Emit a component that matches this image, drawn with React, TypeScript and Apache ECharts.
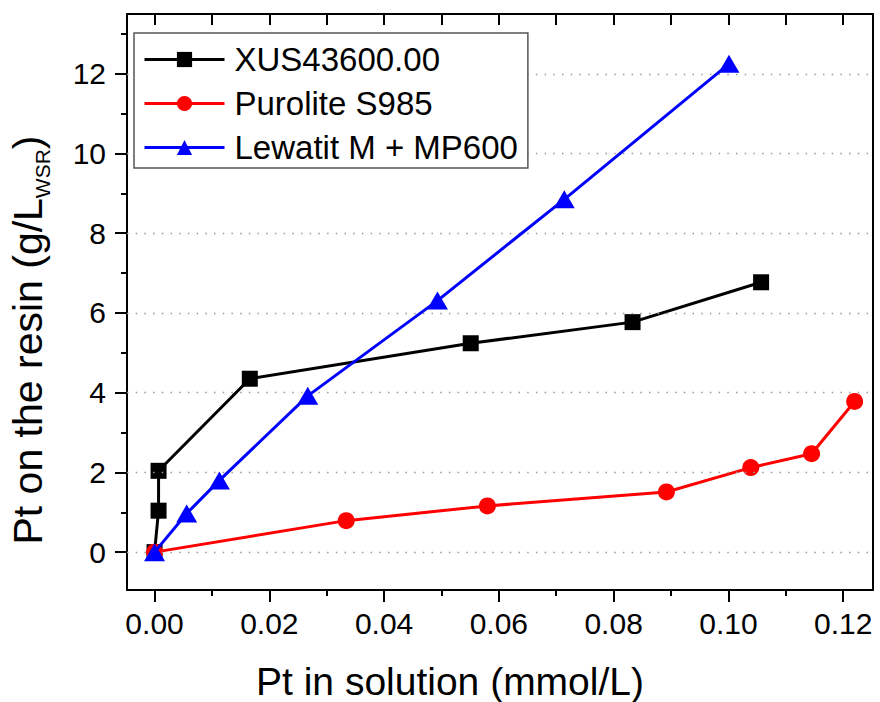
import React, { useEffect, useRef } from "react";
import * as echarts from "echarts";

const seriesNames = ["XUS43600.00", "Purolite S985", "Lewatit M + MP600"];
const xusX = [0, 0.0007, 0.0007, 0.0166, 0.0551, 0.0833, 0.1057];
const xusY = [0, 1.04, 2.04, 4.35, 5.24, 5.77, 6.77];
const puroX = [0, 0.0334, 0.058, 0.0892, 0.1039, 0.1145, 0.122];
const puroY = [0, 0.79, 1.16, 1.51, 2.12, 2.47, 3.78];
const lewX = [0, 0.0056, 0.0113, 0.0267, 0.0493, 0.0714, 0.1001];
const lewY = [0, 0.97, 1.8, 3.92, 6.31, 8.85, 12.25];

const xMajor = [0, 0.02, 0.04, 0.06, 0.08, 0.1, 0.12];
const xMinor = [0.01, 0.03, 0.05, 0.07, 0.09, 0.11];
const yMajor = [0, 2, 4, 6, 8, 10, 12];
const yMinor = [1, 3, 5, 7, 9, 11, 13];

const X_MIN = -0.0048;
const X_MAX = 0.1252;
const Y_MIN = -0.95;
const Y_MAX = 13.5;

const FONT = "'Liberation Sans', Arial, Helvetica, sans-serif";

const zip = (xs: number[], ys: number[]) => xs.map((x, i) => [x, ys[i]]);

export default function App() {
  const ref = useRef<HTMLDivElement>(null);
  useEffect(() => {
    if (!ref.current) return;
    const chart = echarts.init(ref.current, undefined, { renderer: "svg" });
    const axisLineStyle = { color: "#000", width: 2 };
    const baseX = {
      type: "value" as const,
      min: X_MIN,
      max: X_MAX,
      splitLine: { show: false },
    };
    const baseY = {
      type: "value" as const,
      min: Y_MIN,
      max: Y_MAX,
      splitLine: { show: false },
    };
    chart.setOption({
      animation: false,
      backgroundColor: "#fff",
      textStyle: { fontFamily: FONT },
      grid: { left: 127, top: 14, right: 7, bottom: 112, containLabel: false },
      xAxis: [
        {
          ...baseX,
          position: "bottom",
          axisLine: { show: true, onZero: false, lineStyle: axisLineStyle },
          axisTick: { show: true, inside: false, length: 12, customValues: xMajor, lineStyle: { color: "#000", width: 2 } },
          axisLabel: {
            show: true,
            customValues: xMajor,
            formatter: (v: number) => v.toFixed(2),
            fontSize: 30,
            color: "#000",
            fontFamily: FONT,
            margin: 18,
          },
        },
        {
          ...baseX,
          position: "bottom",
          axisLine: { show: false, onZero: false },
          axisTick: { show: true, inside: false, length: 6, customValues: xMinor, lineStyle: { color: "#000", width: 2 } },
          axisLabel: { show: false },
        },
        {
          ...baseX,
          position: "top",
          axisLine: { show: true, onZero: false, lineStyle: axisLineStyle },
          axisTick: { show: true, inside: true, length: 11, customValues: [...xMajor, ...xMinor], lineStyle: { color: "#000", width: 2 } },
          axisLabel: { show: false },
        },
      ],
      yAxis: [
        {
          ...baseY,
          position: "left",
          axisLine: { show: true, onZero: false, lineStyle: axisLineStyle },
          axisTick: { show: true, inside: false, length: 12, customValues: yMajor, lineStyle: { color: "#000", width: 2 } },
          axisLabel: {
            show: true,
            customValues: yMajor,
            fontSize: 30,
            color: "#000",
            fontFamily: FONT,
            margin: 21,
          },
        },
        {
          ...baseY,
          position: "left",
          axisLine: { show: false, onZero: false },
          axisTick: { show: true, inside: false, length: 6, customValues: yMinor, lineStyle: { color: "#000", width: 2 } },
          axisLabel: { show: false },
        },
        {
          ...baseY,
          position: "right",
          axisLine: { show: true, onZero: false, lineStyle: axisLineStyle },
          axisTick: { show: false },
          axisLabel: { show: false },
        },
      ],
      legend: {
        data: seriesNames,
        orient: "vertical",
        left: 134,
        top: 33,
        itemWidth: 80,
        itemHeight: 19,
        itemGap: 11,
        padding: [10, 10, 4, 9],
        backgroundColor: "#fff",
        borderColor: "#555",
        borderWidth: 1.5,
        borderRadius: 0,
        lineStyle: { width: 3 },
        textStyle: { fontSize: 33, color: "#000", fontFamily: FONT, padding: [0, 0, 0, 5] },
        z: 10,
      },
      graphic: [
        {
          type: "text",
          x: 450,
          y: 681,
          style: {
            text: "Pt in solution (mmol/L)",
            fontSize: 39,
            fontFamily: FONT,
            fill: "#000",
            align: "center",
            verticalAlign: "middle",
          },
        },
        {
          type: "text",
          x: 28,
          y: 340,
          rotation: Math.PI / 2,
          style: {
            text: "{a|Pt on the resin (g/L}{b|WSR}{a|)}",
            fill: "#000",
            align: "center",
            verticalAlign: "middle",
            rich: {
              a: { fontSize: 41, fontFamily: FONT, fill: "#000" },
              b: { fontSize: 21, fontFamily: FONT, fill: "#000", padding: [28, 0, 0, 0] },
            },
          },
        },
      ],
      series: [
        {
          name: "gridlines",
          type: "line",
          data: [],
          z: 1,
          silent: true,
          markLine: {
            silent: true,
            symbol: ["none", "none"],
            label: { show: false },
            lineStyle: { color: "#9a9a9a", type: [1.5, 7.2], width: 1.3 },
            data: yMajor.map((v) => ({ yAxis: v })),
          },
        },
        {
          name: seriesNames[0],
          type: "line",
          data: zip(xusX, xusY),
          symbol: "rect",
          symbolSize: 16,
          lineStyle: { color: "#000", width: 3 },
          itemStyle: { color: "#000" },
          z: 3,
        },
        {
          name: seriesNames[1],
          type: "line",
          data: zip(puroX, puroY),
          symbol: "circle",
          symbolSize: 17,
          lineStyle: { color: "#ff0000", width: 3 },
          itemStyle: { color: "#ff0000" },
          z: 4,
        },
        {
          name: seriesNames[2],
          type: "line",
          data: zip(lewX, lewY),
          symbol: "triangle",
          symbolSize: [21, 18],
          lineStyle: { color: "#0000ff", width: 3 },
          itemStyle: { color: "#0000ff" },
          z: 5,
        },
      ],
    });
    return () => chart.dispose();
  }, []);
  return <div ref={ref} style={{ width: 880, height: 702, position: "absolute", left: 0, top: 0 }} />;
}
